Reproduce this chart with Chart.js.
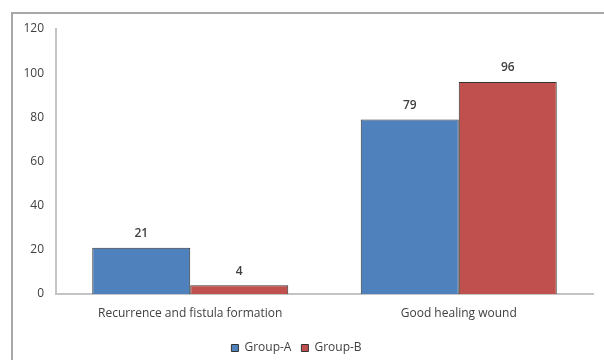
<!DOCTYPE html>
<html>
<head>
<meta charset="utf-8">
<script src="https://cdn.jsdelivr.net/npm/chart.js@4/dist/chart.umd.min.js"></script>
<style>
  html, body { margin: 0; padding: 0; background: #fff; }
  #wrap { position: relative; width: 604px; height: 360px; overflow: hidden; }
  #frame { position: absolute; left: 11px; top: 12px; width: 700px; height: 500px;
           border-left: 2px solid #a8a8a8; border-top: 2px solid #a8a8a8; }
  canvas { position: absolute; left: 0; top: 0; }
</style>
</head>
<body>
<div id="wrap">
  <div id="frame"></div>
  <canvas id="c" width="604" height="360"></canvas>
</div>
<script>
const categories = ['Recurrence and fistula formation', 'Good healing wound'];
const groupA = [21, 79];
const groupB = [4, 96];
const yTicks = [0, 20, 40, 60, 80, 100, 120];

const FONT = '"Open Sans", "Liberation Sans", sans-serif';

// Writes each bar's value just above it
const valueLabels = {
  id: 'valueLabels',
  afterDatasetsDraw(chart) {
    const ctx = chart.ctx;
    ctx.save();
    ctx.font = '600 12px ' + FONT;
    ctx.fillStyle = '#404040';
    ctx.textAlign = 'center';
    ctx.textBaseline = 'bottom';
    chart.data.datasets.forEach((ds, i) => {
      chart.getDatasetMeta(i).data.forEach((bar, j) => {
        ctx.fillText(String(ds.data[j]), bar.x, bar.y - 8);
      });
    });
    ctx.restore();
  }
};

new Chart(document.getElementById('c'), {
  type: 'bar',
  data: {
    labels: categories,
    datasets: [
      { label: 'Group-A', data: groupA, backgroundColor: '#4f81bd', borderColor: '#333333', borderWidth: 1 },
      { label: 'Group-B', data: groupB, backgroundColor: '#c0504d', borderColor: '#333333', borderWidth: 1 }
    ]
  },
  options: {
    responsive: false,
    animation: false,
    devicePixelRatio: 1,
    layout: { padding: { left: 0, right: 11, top: 29, bottom: -4 } },
    categoryPercentage: 0.73,
    barPercentage: 1.0,
    plugins: {
      legend: {
        position: 'bottom',
        labels: {
          boxWidth: 7, boxHeight: 7,
          color: '#404040',
          font: { family: FONT, size: 12 },
          padding: 10
        }
      },
      tooltip: { enabled: false }
    },
    scales: {
      x: {
        grid: { display: false },
        border: { display: true, color: '#c4c4c4', width: 2 },
        ticks: { color: '#404040', font: { family: FONT, size: 12 }, padding: 4, maxRotation: 0 },
        afterFit(s) { s.height = 38; }
      },
      y: {
        min: 0, max: 120,
        grid: { display: false },
        border: { display: true, color: '#c4c4c4', width: 2 },
        afterBuildTicks(s) { s.ticks = yTicks.map(v => ({ value: v })); },
        ticks: { color: '#404040', font: { family: FONT, size: 12 }, padding: 4 },
        afterFit(s) { s.width = 56; }
      }
    }
  },
  plugins: [valueLabels]
});
</script>
</body>
</html>
